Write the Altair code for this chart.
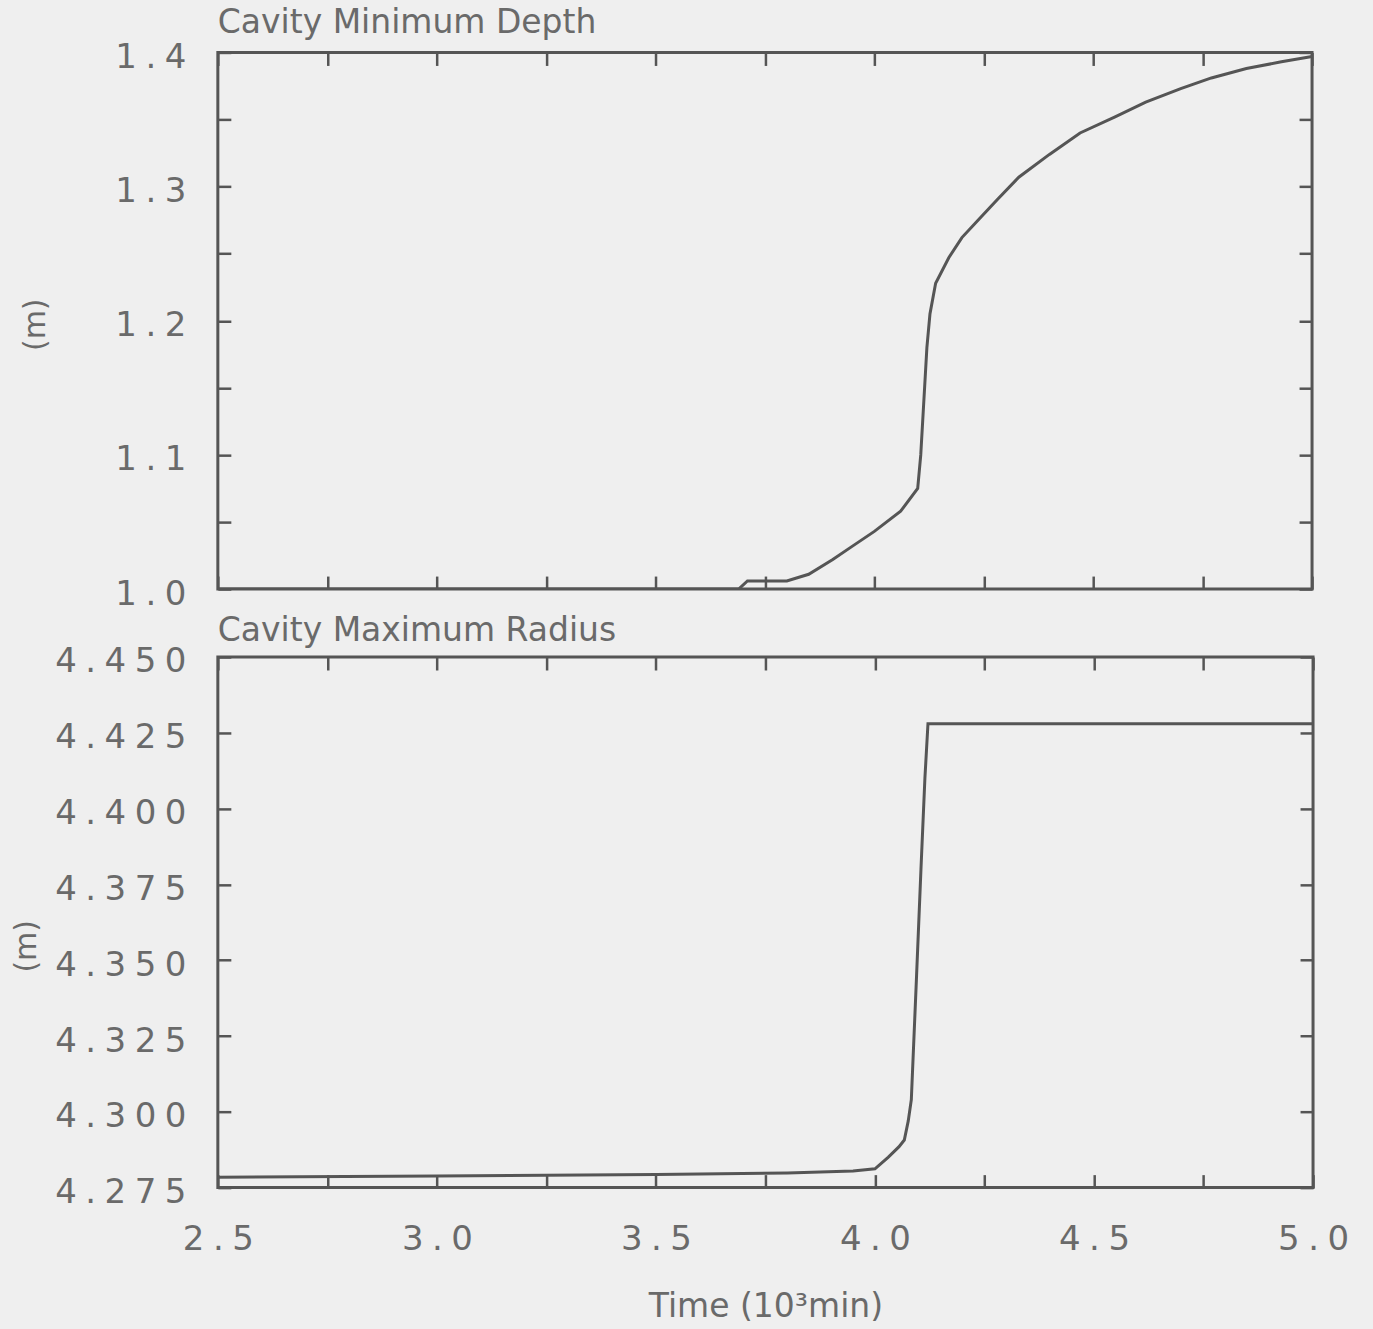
import altair as alt
import pandas as pd

# ---- data ----
x_ticks = [2.5, 2.75, 3.0, 3.25, 3.5, 3.75, 4.0, 4.25, 4.5, 4.75, 5.0]
depth_ticks = [1.0, 1.05, 1.1, 1.15, 1.2, 1.25, 1.3, 1.35, 1.4]
radius_ticks = [4.275, 4.300, 4.325, 4.350, 4.375, 4.400, 4.425, 4.450]

depth_time = [2.50, 3.00, 3.50, 3.69, 3.71, 3.80, 3.85, 3.905, 3.95, 4.00, 4.06,
              4.099, 4.106, 4.113, 4.120, 4.127, 4.14, 4.17, 4.20, 4.24, 4.28,
              4.33, 4.40, 4.47, 4.55, 4.62, 4.70, 4.77, 4.85, 4.93, 5.00]
depth_value = [1.000, 1.000, 1.000, 1.000, 1.006, 1.006, 1.011, 1.022, 1.032, 1.043, 1.058,
               1.075, 1.100, 1.140, 1.180, 1.205, 1.228, 1.247, 1.262, 1.276, 1.290,
               1.307, 1.324, 1.340, 1.352, 1.363, 1.373, 1.381, 1.388, 1.393, 1.397]

radius_time = [2.50, 3.00, 3.50, 3.80, 3.95, 4.00, 4.03, 4.055, 4.067, 4.076, 4.083,
               4.095, 4.105, 4.114, 4.121, 5.00]
radius_value = [4.2784, 4.2788, 4.2793, 4.2798, 4.2805, 4.2812, 4.2850, 4.2885, 4.2907,
                4.2970, 4.3040, 4.3450, 4.3800, 4.4100, 4.4280, 4.4280]

depth_df = pd.DataFrame({"t": depth_time, "v": depth_value})
radius_df = pd.DataFrame({"t": radius_time, "v": radius_value})

# ---- style ----
LINE = "#555555"
TEXT = "#6a6a6a"
FONT = "DejaVu Sans"
SP = "\u2005"
INWARD = {"expr": "-13"}


def spaced(fmt):
    return f"join(split(format(datum.value, '{fmt}'), ''), '{SP}')"


x_label_expr = f"abs(datum.value*2 - round(datum.value*2)) < 0.001 ? {spaced('.1f')} : ''"
depth_label_expr = f"abs(datum.value*10 - round(datum.value*10)) < 0.001 ? {spaced('.1f')} : ''"
radius_label_expr = spaced('.3f')


def panel(df, title, y_domain, y_ticks, y_label_expr, show_x, title_x, title_y, w, h, t_off):
    xs = alt.Scale(domain=[2.5, 5.0], nice=False, zero=False)
    ys = alt.Scale(domain=y_domain, nice=False, zero=False)
    if show_x:
        x_axis = alt.Axis(orient="bottom", values=x_ticks, tickSize=INWARD,
                          labelExpr=x_label_expr, labelPadding=48,
                          title="Time  (10³min)", titlePadding=34, titleFontSize=33)
    else:
        x_axis = alt.Axis(orient="bottom", values=x_ticks, tickSize=INWARD,
                          labels=False, title=None)
    main = alt.Chart(df).mark_line(color=LINE, strokeWidth=3, clip=True).encode(
        x=alt.X("t:Q", scale=xs, axis=x_axis),
        y=alt.Y("v:Q", scale=ys, axis=alt.Axis(
            orient="left", values=y_ticks, tickSize=INWARD,
            labelExpr=y_label_expr, labelPadding=45, labelOffset=5,
            title="(m)", titleX=title_x, titleY=title_y, titleAngle=270,
            titleAlign="center", titleBaseline="middle")),
    )
    mirror = alt.Chart(df).mark_line(strokeOpacity=0).encode(
        x=alt.X("t:Q", scale=xs, axis=alt.Axis(orient="top", values=x_ticks,
                                               tickSize=INWARD, labels=False, title=None)),
        y=alt.Y("v:Q", scale=ys, axis=alt.Axis(orient="right", values=y_ticks,
                                               tickSize=INWARD, labels=False, title=None)),
    )
    return alt.layer(main, mirror).resolve_axis(
        x="independent", y="independent"
    ).properties(
        width=w, height=h,
        title=alt.TitleParams(title, anchor="start", frame="group", offset=t_off),
    )


top = panel(depth_df, "Cavity  Minimum  Depth", [1.0, 1.4], depth_ticks,
            depth_label_expr, False, -182, 272, 1095, 537, 0)
bottom = panel(radius_df, "Cavity  Maximum  Radius", [4.275, 4.450], radius_ticks,
               radius_label_expr, True, -191, 289, 1096, 531, -3)

chart = alt.vconcat(top, bottom, spacing=0).properties(
    background="#efefef",
    padding={"left": 10, "top": 5, "right": 22, "bottom": 8},
).configure_view(
    stroke=LINE, strokeWidth=3
).configure_axis(
    labelFont=FONT, labelFontSize=34, labelColor=TEXT,
    titleFont=FONT, titleFontSize=30, titleColor=TEXT, titleFontWeight="normal",
    tickColor=LINE, tickWidth=2.5, grid=False, domain=False,
    labelFlush=False, labelOverlap=False,
).configure_title(
    font=FONT, fontSize=33, color=TEXT, fontWeight="normal"
)

chart.save("out.html", embed_options={"renderer": "svg", "actions": False})
